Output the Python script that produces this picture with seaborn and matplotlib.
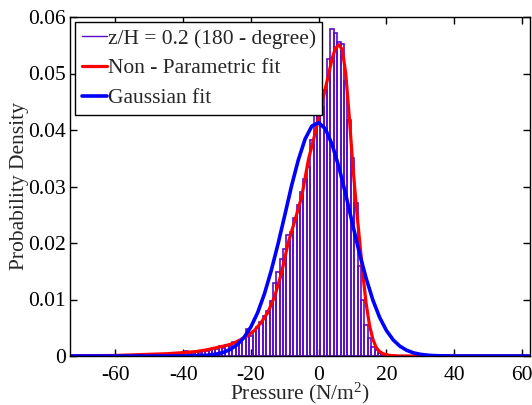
import matplotlib
matplotlib.use("Agg")
import matplotlib.pyplot as plt
import seaborn as sns
from matplotlib.lines import Line2D

# ---------------- data ----------------
bin_centers = list(range(-46, 21))
bin_heights = [
    0.0002, 0.0003, 0.0004, 0.0003, 0.0004, 0.0003, 0.0005, 0.0008, 0.0004, 0.0006,  # -46..-37
    0.0007, 0.0006, 0.0008, 0.0009, 0.0010, 0.0014, 0.0012, 0.0017, 0.0014, 0.0019,  # -36..-27
    0.0018, 0.0025, 0.0022, 0.0027, 0.0031, 0.0048, 0.0036, 0.0044, 0.0052, 0.0060,  # -26..-17
    0.0071, 0.0080, 0.0098, 0.0130, 0.0148, 0.0172, 0.0190, 0.0214, 0.0220, 0.0245,  # -16..-7
    0.0268, 0.0290, 0.0314, 0.0335, 0.0382, 0.0434, 0.0435, 0.0440, 0.0470, 0.0525,  # -6..3
    0.0578, 0.0572, 0.0555, 0.0553, 0.0487, 0.0418, 0.0350, 0.0270, 0.0160, 0.0100,  # 4..13
    0.0055, 0.0032, 0.0016, 0.0010, 0.0005, 0.0002, 0.0001,                          # 14..20
]

npf_x = [-73, -60, -50, -45, -40, -36, -33, -30, -27, -25, -23, -21, -19, -17, -15,
         -13, -11, -9, -7, -5, -3, -1, 0.5, 2, 3, 4, 5, 6, 7, 8, 9, 10, 11, 12, 13,
         14, 15, 16, 17, 18, 19, 21, 24, 40, 62]
npf_y = [0.0, 0.0001, 0.0003, 0.0004, 0.0006, 0.0008, 0.0011, 0.0015, 0.0019, 0.0023,
         0.0029, 0.0036, 0.0045, 0.0059, 0.0077, 0.0105, 0.0146, 0.0200, 0.0240, 0.0282,
         0.0348, 0.0395, 0.0435, 0.0474, 0.0500, 0.0527, 0.0545, 0.0551, 0.0542, 0.0500,
         0.0427, 0.0345, 0.0272, 0.0210, 0.0148, 0.0094, 0.0055, 0.0030, 0.0015, 0.0008,
         0.0004, 0.0001, 0.0, 0.0, 0.0]

gau_x = [-73, -40, -36, -34, -32, -30, -28, -26, -24, -22, -20, -18, -16, -14, -12,
         -10, -8, -6, -4, -2, 0, 2, 4, 6, 8, 10, 12, 14, 16, 18, 20, 22, 24, 26, 28,
         30, 32, 34, 36, 40, 62]
gau_y = [0.0, 0.0, 0.00004, 0.00009, 0.00019, 0.00036, 0.00067, 0.00119, 0.00202,
         0.00330, 0.00514, 0.00768, 0.0110, 0.0151, 0.0198, 0.0249, 0.0301, 0.0347,
         0.0384, 0.0407, 0.0413, 0.0402, 0.0374, 0.0334, 0.0286, 0.0234, 0.0183,
         0.0138, 0.00992, 0.00684, 0.00452, 0.00286, 0.00173, 0.00101, 0.00056,
         0.00030, 0.00015, 0.00007, 0.00003, 0.0, 0.0]

x_ticks = [-60, -40, -20, 0, 20, 40, 60]
x_tick_labels = ["-60", "-40", "-20", "0", "20", "40", "60"]
y_ticks = [0, 0.01, 0.02, 0.03, 0.04, 0.05, 0.06]
y_tick_labels = ["0", "0.01", "0.02", "0.03", "0.04", "0.05", "0.06"]
legend_labels = ["z/H = 0.2 (180 - degree)", "Non - Parametric fit", "Gaussian fit"]

# ---------------- styling ----------------
sns.set_style("white")
plt.rcParams["font.family"] = ["Liberation Serif", "DejaVu Serif"]
plt.rcParams["mathtext.fontset"] = "custom"
plt.rcParams["mathtext.rm"] = "Liberation Serif"
plt.rcParams["mathtext.it"] = "Liberation Serif:italic"
FS = 15.5
PURPLE = "#5a0cc8"
RED = "#ff0000"
BLUE = "#0000ff"

fig = plt.figure(figsize=(5.32, 4.05), dpi=100)
ax = fig.add_axes([70 / 532, 1 - 356 / 405, (530 - 70) / 532, (356 - 17) / 405])

sns.histplot(x=bin_centers, weights=bin_heights, binwidth=1, binrange=(-46.5, 20.5),
             fill=False, color=PURPLE, linewidth=1.2, element="bars", ax=ax)
sns.lineplot(x=npf_x, y=npf_y, sort=False, estimator=None, color=RED, linewidth=2.3, ax=ax)
sns.lineplot(x=gau_x, y=gau_y, sort=False, estimator=None, color=BLUE, linewidth=2.6, ax=ax)

ax.set_xlim(-73.4, 62.4)
ax.set_ylim(0, 0.06)
ax.set_xticks(x_ticks)
ax.set_xticklabels(x_tick_labels, fontsize=FS)
ax.set_yticks(y_ticks)
ax.set_yticklabels(y_tick_labels, fontsize=FS)
ax.tick_params(direction="in", length=5, width=1, top=True, right=True,
               bottom=True, left=True, colors="black")
ax.tick_params(axis="x", pad=7)
ax.tick_params(axis="y", pad=3)
for s in ax.spines.values():
    s.set_color("black")
    s.set_linewidth(1.0)

ax.set_xlabel(r"Pressure (N/m$^\mathrm{2}$)", fontsize=FS, labelpad=-3)
ax.set_ylabel("Probability Density", fontsize=FS, labelpad=-1)

handles = [Line2D([], [], color=PURPLE, lw=1.0),
           Line2D([], [], color=RED, lw=2.3),
           Line2D([], [], color=BLUE, lw=2.6)]
leg = ax.legend(handles, legend_labels, loc="upper left", bbox_to_anchor=(0.011, 0.985),
                borderaxespad=0, fontsize=FS, handlelength=1.2, handletextpad=0.02,
                borderpad=0.3, labelspacing=0.45, frameon=True, fancybox=False)
leg.get_frame().set_edgecolor("black")
leg.get_frame().set_linewidth(1.0)
leg.get_frame().set_alpha(1)

fig.savefig("out.png", dpi=100)
